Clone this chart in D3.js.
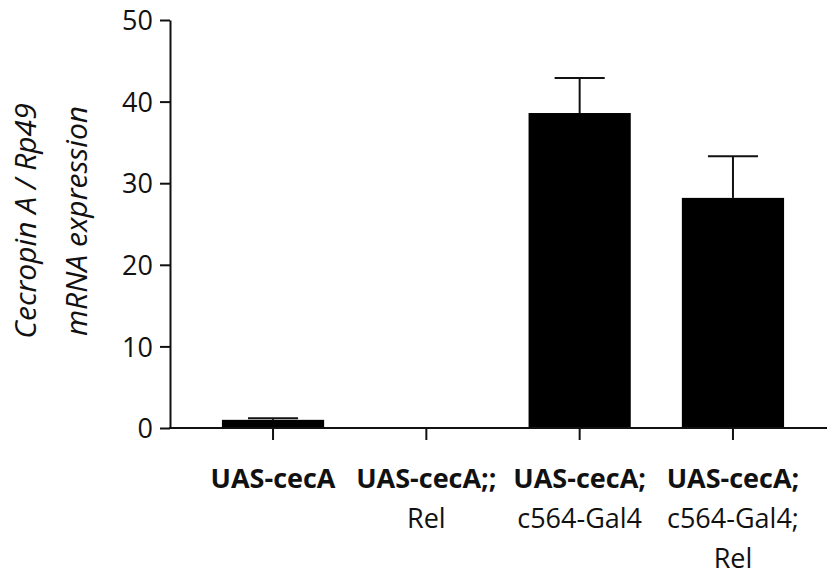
<!DOCTYPE html>
<html>
<head>
<meta charset="utf-8">
<script src="https://cdn.jsdelivr.net/npm/d3@7"></script>
<style>
  body { margin: 0; background: #fff; }
  text { font-family: "Open Sans", sans-serif; fill: #111; }
</style>
</head>
<body>
<svg id="chart" width="827" height="575"></svg>
<script>
// data
const categories = ["UAS-cecA", "UAS-cecA;;", "UAS-cecA;", "UAS-cecA; c564-Gal4;"];
const labelLines = [
  ["UAS-cecA"],
  ["UAS-cecA;;", "Rel"],
  ["UAS-cecA;", "c564-Gal4"],
  ["UAS-cecA;", "c564-Gal4;", "Rel"]
];
const means = [1.0, 0, 38.6, 28.2];
const errors = [0.2, 0, 4.3, 5.1];
const yTicks = [0, 10, 20, 30, 40, 50];
const yTitle = ["Cecropin A / Rp49", "mRNA expression"];

const svg = d3.select("#chart");
const W = 827;
const axisX = 170, baseY = 428, topY = 20;

const y = d3.scaleLinear().domain([0, 50]).range([baseY, topY]);

const x = d3.scaleBand()
  .domain(categories)
  .range([179, 827])
  .paddingInner(1 / 3)
  .paddingOuter(0.28);

// bars
svg.append("g").selectAll("rect")
  .data(means)
  .enter().append("rect")
  .attr("x", (d, i) => x(categories[i]))
  .attr("width", x.bandwidth())
  .attr("y", d => y(d))
  .attr("height", d => baseY - y(d))
  .attr("fill", "#000");

// error bars (upper half only)
const capW = x.bandwidth() * 0.49;
const eb = svg.append("g").attr("stroke", "#111").attr("stroke-width", 2);
means.forEach((m, i) => {
  if (!errors[i]) return;
  const cx = x(categories[i]) + x.bandwidth() / 2;
  eb.append("line").attr("x1", cx).attr("x2", cx).attr("y1", y(m)).attr("y2", y(m + errors[i]));
  eb.append("line").attr("x1", cx - capW / 2).attr("x2", cx + capW / 2)
    .attr("y1", y(m + errors[i])).attr("y2", y(m + errors[i]));
});

// y axis
const yAxis = svg.append("g")
  .attr("transform", `translate(${axisX},0)`)
  .call(d3.axisLeft(y).tickValues(yTicks).tickSize(10).tickSizeOuter(0).tickPadding(7));
yAxis.select(".domain").attr("stroke", "#111").attr("stroke-width", 2);
yAxis.selectAll(".tick line").attr("stroke", "#111").attr("stroke-width", 2);
yAxis.selectAll(".tick text").attr("font-size", 27).attr("dy", "0.36em")
  .style("font-family", "'Open Sans', sans-serif").attr("fill", "#111");

// x axis
const xAxis = svg.append("g")
  .attr("transform", `translate(0,${baseY})`)
  .call(d3.axisBottom(x).tickSize(12).tickSizeOuter(0).tickFormat(""));
xAxis.select(".domain").remove();
xAxis.selectAll(".tick line").attr("stroke", "#111").attr("stroke-width", 2);
xAxis.append("line")
  .attr("x1", axisX - 1).attr("x2", W)
  .attr("stroke", "#111").attr("stroke-width", 2);

// category labels
const lab = svg.append("g");
labelLines.forEach((lines, i) => {
  const cx = x(categories[i]) + x.bandwidth() / 2;
  const t = lab.append("text")
    .attr("x", cx)
    .attr("y", 488)
    .attr("text-anchor", "middle")
    .attr("font-size", 27);
  lines.forEach((s, j) => {
    t.append("tspan")
      .attr("x", cx)
      .attr("dy", j === 0 ? 0 : 40)
      .attr("font-weight", j === 0 ? "bold" : "normal")
      .text(s);
  });
});

// y title
const yt = svg.append("text")
  .attr("transform", "translate(36,221) rotate(-90)")
  .attr("text-anchor", "middle")
  .attr("font-size", 30)
  .attr("font-style", "italic");
yTitle.forEach((s, j) => {
  yt.append("tspan").attr("x", 0).attr("dy", j === 0 ? 0 : 51).text(s);
});
</script>
</body>
</html>
